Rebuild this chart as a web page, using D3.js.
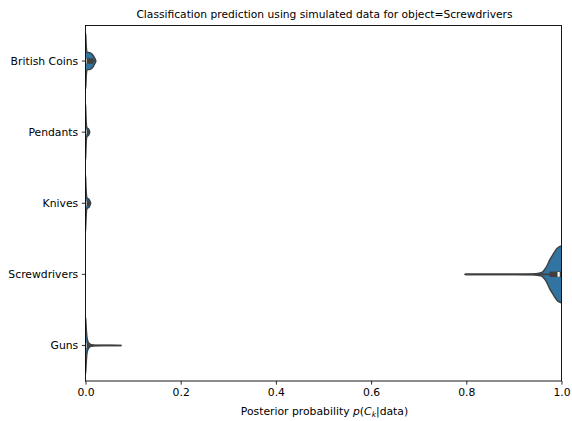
<!DOCTYPE html>
<html><head><meta charset="utf-8">
<script src="https://cdn.jsdelivr.net/npm/d3@7"></script>
<style>body{margin:0;background:#fff}svg{display:block}</style>
</head><body><svg id="c" width="572" height="421"></svg>
<script>
const categories = ["British Coins", "Pendants", "Knives", "Screwdrivers", "Guns"];
const xTicks = [0, 0.2, 0.4, 0.6, 0.8, 1.0];
const xTickLabels = ["0.0", "0.2", "0.4", "0.6", "0.8", "1.0"];
const whiskerLow  = [0.0,   0.0,    0.0,    0.797, 0.0];
const whiskerHigh = [0.02,  0.008,  0.010,  1.0,   0.075];
const boxQ1       = [0.0,   0.0,    0.0,    0.975, 0.0];
const boxMedian   = [0.0,   0.0,    0.0,    0.994, 0.0];
const boxQ3       = [0.017, 0.006,  0.008,  0.999, 0.007];
// density profiles: [value, relative half-width (1 = widest)]
const densityBritishCoins = [[-0.004,1],[0,1],[0.0008,0.85],[0.0016,0.55],[0.0025,0.36],[0.004,0.3],[0.007,0.3],[0.010,0.29],[0.013,0.26],[0.016,0.2],[0.019,0.11],[0.021,0.04],[0.022,0]];
const densityPendants = [[-0.004,1],[0,1],[0.0008,0.7],[0.0016,0.35],[0.0025,0.18],[0.004,0.14],[0.006,0.12],[0.008,0.06],[0.009,0]];
const densityKnives = [[-0.004,1],[0,1],[0.0008,0.7],[0.0016,0.4],[0.0025,0.22],[0.004,0.17],[0.007,0.15],[0.009,0.09],[0.011,0]];
const densityScrewdrivers = [[0.797,0],[0.8,0.004],[0.85,0.005],[0.9,0.006],[0.94,0.015],[0.95,0.03],[0.955,0.05],[0.96,0.08],[0.965,0.18],[0.97,0.32],[0.975,0.5],[0.98,0.64],[0.985,0.78],[0.99,0.9],[0.995,0.97],[1.0,1.0],[1.005,1.0]];
const densityGuns = [[-0.004,1],[0,1],[0.001,0.8],[0.002,0.5],[0.003,0.3],[0.005,0.15],[0.008,0.07],[0.012,0.03],[0.02,0.012],[0.04,0.006],[0.07,0.003],[0.075,0]];
const densities = [densityBritishCoins, densityPendants, densityKnives, densityScrewdrivers, densityGuns];

const fillColor = "#3274a1", gray = "#3f3f3f";
const fs = 10.8, titleFs = 10.7;
const L = 85.5, R = 561.5, T = 25.5, B = 381;
const svg = d3.select("#c");
const x = d3.scaleLinear().domain([0, 1]).range([L, R]);
const y = d3.scaleBand().domain(categories).range([T, B]).padding(0);
const w = d3.scaleLinear().domain([0, 1]).range([0, y.bandwidth() * 0.4]);

svg.append("defs").append("clipPath").attr("id", "clip")
  .append("rect").attr("x", L).attr("y", T).attr("width", R - L).attr("height", B - T);
const g = svg.append("g").attr("clip-path", "url(#clip)");

const boxW = 5.5;
categories.forEach((c, i) => {
  const cy = y(c) + y.bandwidth() / 2;
  const area = d3.area().curve(d3.curveMonotoneX)
    .x(d => x(d[0])).y0(d => cy - w(d[1])).y1(d => cy + w(d[1]));
  g.append("path").attr("d", area(densities[i]))
    .attr("fill", fillColor).attr("stroke", gray).attr("stroke-width", 1.4).attr("stroke-linejoin", "round");
  g.append("line").attr("x1", x(whiskerLow[i])).attr("x2", x(whiskerHigh[i]))
    .attr("y1", cy).attr("y2", cy).attr("stroke", gray).attr("stroke-width", 1.56);
  g.append("line").attr("x1", x(boxQ1[i])).attr("x2", x(boxQ3[i]))
    .attr("y1", cy).attr("y2", cy).attr("stroke", gray).attr("stroke-width", boxW);
  g.append("line").attr("x1", x(boxMedian[i])).attr("x2", x(boxMedian[i]))
    .attr("y1", cy - boxW / 2 + 0.3).attr("y2", cy + boxW / 2 - 0.3)
    .attr("stroke", "#fff").attr("stroke-width", 2.2);
});

// spines
svg.append("rect").attr("x", L).attr("y", T).attr("width", R - L).attr("height", B - T)
  .attr("fill", "none").attr("stroke", "#000").attr("stroke-width", 0.9);

// x axis
const xa = svg.append("g").attr("transform", `translate(0,${B})`)
  .call(d3.axisBottom(x).tickValues(xTicks).tickFormat((d, i) => xTickLabels[i]).tickSize(3.65).tickPadding(3.65));
xa.select(".domain").remove();
xa.selectAll("line").attr("stroke", "#000").attr("stroke-width", 0.83);
xa.selectAll("text").attr("font-family", "DejaVu Sans").attr("font-size", fs).attr("fill", "#000");

// y axis
const ya = svg.append("g").attr("transform", `translate(${L},0)`)
  .call(d3.axisLeft(y).tickSize(3.65).tickPadding(3.65));
ya.select(".domain").remove();
ya.selectAll("line").attr("stroke", "#000").attr("stroke-width", 0.83);
ya.selectAll("text").attr("font-family", "DejaVu Sans").attr("font-size", fs).attr("fill", "#000");

// title
svg.append("text").attr("x", (L + R) / 2 + 1).attr("y", 17.5).attr("text-anchor", "middle")
  .attr("font-family", "DejaVu Sans").attr("font-size", titleFs)
  .text("Classification prediction using simulated data for object=Screwdrivers");

// x label
const xl = svg.append("text").attr("x", (L + R) / 2 + 1).attr("y", 414.5).attr("text-anchor", "middle")
  .attr("font-family", "DejaVu Sans").attr("font-size", fs);
xl.append("tspan").text("Posterior probability ");
xl.append("tspan").attr("font-style", "italic").text("p");
xl.append("tspan").text("(");
xl.append("tspan").attr("font-style", "italic").text("C");
xl.append("tspan").attr("font-style", "italic").attr("font-size", fs * 0.7).attr("dy", 2).text("k");
xl.append("tspan").attr("dy", -2).text("|data)");
</script></body></html>
